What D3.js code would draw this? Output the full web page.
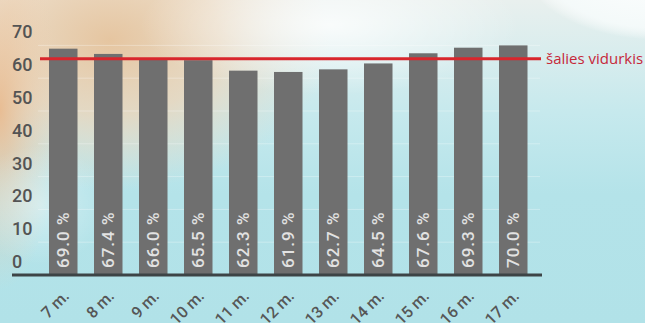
<!DOCTYPE html>
<html>
<head>
<meta charset="utf-8">
<script src="https://cdn.jsdelivr.net/npm/d3@7"></script>
<style>
  html, body { margin: 0; padding: 0; width: 645px; height: 323px; overflow: hidden; }
  svg { display: block; }
</style>
</head>
<body>
<svg id="chart" width="645" height="323"></svg>
<script>
// ---- data ----
const categories = ["7 m.", "8 m.", "9 m.", "10 m.", "11 m.", "12 m.", "13 m.", "14 m.", "15 m.", "16 m.", "17 m."];
const values = [69.0, 67.4, 66.0, 65.5, 62.3, 61.9, 62.7, 64.5, 67.6, 69.3, 70.0];
const yTicks = [0, 10, 20, 30, 40, 50, 60, 70];
const averageValue = 65.9;
const averageLabel = "šalies vidurkis";

const W = 645, H = 323;
const svg = d3.select("#chart");
const defs = svg.append("defs");

// ---- background ----
const base = defs.append("linearGradient").attr("id", "bgBase").attr("x1", 0).attr("y1", 0).attr("x2", 0).attr("y2", 1);
base.append("stop").attr("offset", "0").attr("stop-color", "#e9f0ee");
base.append("stop").attr("offset", "0.35").attr("stop-color", "#c6e9ed");
base.append("stop").attr("offset", "0.6").attr("stop-color", "#b4e3e9");
base.append("stop").attr("offset", "1").attr("stop-color", "#b1e2e8");
svg.append("rect").attr("width", W).attr("height", H).attr("fill", "url(#bgBase)");

function radial(id, stops) {
  const g = defs.append("radialGradient").attr("id", id);
  stops.forEach(s => g.append("stop").attr("offset", s[0]).attr("stop-color", s[1]).attr("stop-opacity", s[2]));
}
radial("peach", [[0, "#e6c39c", 0.95], [0.5, "#ecd3b6", 0.75], [1, "#f0dcc6", 0]]);
radial("peach2", [[0, "#eab98c", 0.9], [1, "#f0d2b4", 0]]);
radial("whiteGlow", [[0, "#ffffff", 0.8], [1, "#ffffff", 0]]);
radial("whiteTR", [[0, "#ffffff", 1], [0.85, "#f6fbfb", 0.9], [1, "#ffffff", 0]]);

svg.append("ellipse").attr("cx", 110).attr("cy", 40).attr("rx", 220).attr("ry", 150).attr("fill", "url(#peach)");
svg.append("ellipse").attr("cx", 0).attr("cy", 110).attr("rx", 60).attr("ry", 180).attr("fill", "url(#peach2)");
svg.append("ellipse").attr("cx", 330).attr("cy", 25).attr("rx", 190).attr("ry", 70).attr("fill", "url(#whiteGlow)");
svg.append("ellipse").attr("cx", 660).attr("cy", -40).attr("rx", 140).attr("ry", 80).attr("fill", "url(#whiteTR)");
svg.append("ellipse").attr("cx", 40).attr("cy", 205).attr("rx", 70).attr("ry", 60).attr("fill", "url(#whiteGlow)").attr("opacity", 0.5);

// ---- scales ----
const x = d3.scaleBand()
  .domain(categories)
  .range([40.75, 535.75])
  .paddingInner(0.3667)
  .paddingOuter(0.3667 / 2);

const y = d3.scaleLinear().domain([0, 70]).range([275, 45.4]);

// ---- gridlines ----
svg.append("g").selectAll("line").data(yTicks.filter(d => d > 0)).join("line")
  .attr("x1", 38).attr("x2", 540)
  .attr("y1", d => y(d)).attr("y2", d => y(d))
  .attr("stroke", "#ffffff").attr("stroke-opacity", 0.3).attr("stroke-width", 1);

// ---- y tick labels ----
svg.append("g").selectAll("text").data(yTicks).join("text")
  .attr("x", 12)
  .attr("y", d => y(d) - 7)
  .attr("font-family", "Roboto, sans-serif")
  .attr("font-size", 18)
  .attr("font-weight", 500)
  .attr("fill", "#545454")
  .text(d => d);

// ---- bars ----
svg.append("g").selectAll("rect").data(values).join("rect")
  .attr("x", (d, i) => x(categories[i]))
  .attr("y", d => y(d))
  .attr("width", x.bandwidth())
  .attr("height", d => y(0) - y(d))
  .attr("fill", "#6f6f6f");

// ---- value labels ----
const fmt = d3.format(".1f");
svg.append("g").selectAll("text").data(values).join("text")
  .attr("transform", (d, i) => `translate(${x(categories[i]) + x.bandwidth() / 2},${y(0) - 7}) rotate(-90)`)
  .attr("dy", "0.36em")
  .attr("font-family", "Roboto, sans-serif")
  .attr("font-size", 17)
  .attr("font-weight", 500)
  .attr("letter-spacing", 1)
  .attr("fill", "#e2e2e2")
  .text(d => fmt(d) + " %");

// ---- x axis ----
const xAxis = svg.append("g")
  .attr("transform", `translate(0,${y(0)})`)
  .call(d3.axisBottom(x).tickSize(0).tickPadding(0));
xAxis.select(".domain").remove();
xAxis.selectAll(".tick text")
  .attr("font-family", "Roboto, sans-serif")
  .attr("font-size", 16)
  .attr("font-weight", 500)
  .attr("fill", "#565656")
  .attr("text-anchor", "end")
  .attr("dy", 0)
  .attr("transform", "translate(7,22) rotate(-45)");

svg.append("line")
  .attr("x1", 12).attr("x2", 542)
  .attr("y1", y(0)).attr("y2", y(0))
  .attr("stroke", "#3d4446").attr("stroke-width", 3);

// ---- average line ----
svg.append("line")
  .attr("x1", 40).attr("x2", 541)
  .attr("y1", y(averageValue)).attr("y2", y(averageValue))
  .attr("stroke", "#d8262c").attr("stroke-width", 3);
svg.append("text")
  .attr("x", 546)
  .attr("y", y(averageValue) + 5)
  .attr("font-family", "'Open Sans', sans-serif")
  .attr("font-size", 15)
  .attr("font-weight", 500)
  .attr("fill", "#c6283a")
  .text(averageLabel);
</script>
</body>
</html>
